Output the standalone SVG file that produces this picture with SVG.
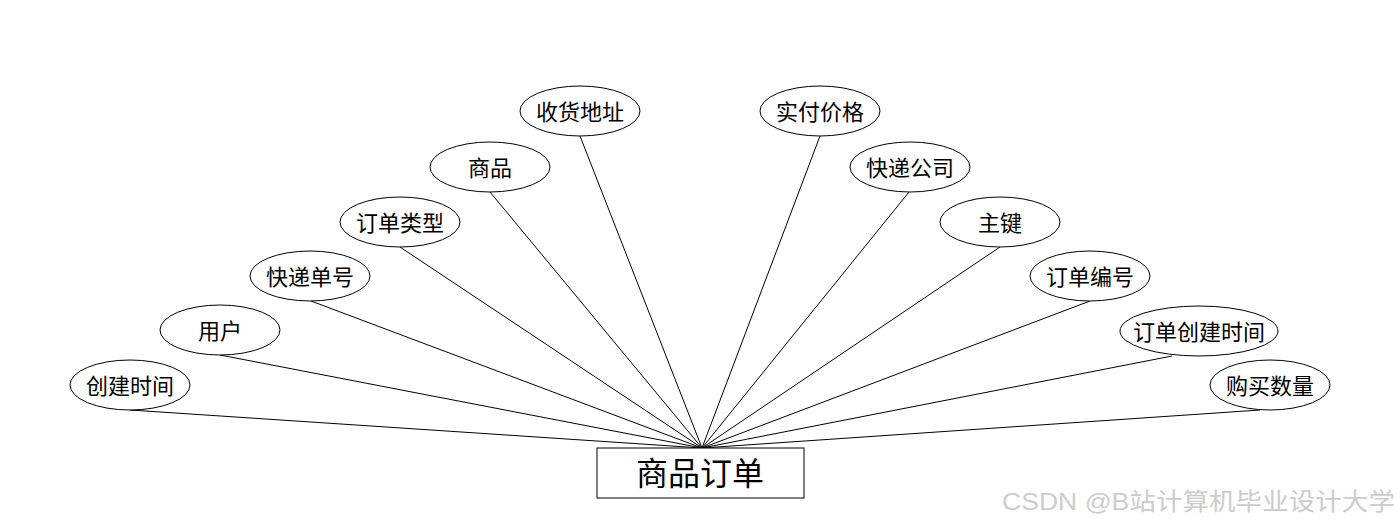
<svg xmlns="http://www.w3.org/2000/svg" width="1400" height="528" viewBox="0 0 1400 528">
<style>
.bg{fill:#ffffff}
.e{fill:#ffffff;stroke:#000000;stroke-width:1}
.c line{stroke:#000000;stroke-width:1}
.t{font-family:"Microsoft YaHei","Noto Sans CJK SC","Noto Sans",sans-serif;font-size:22px;fill:#000000;text-anchor:middle;dominant-baseline:central}
.main{font-size:32px}
.wm{font-family:"Liberation Sans","Noto Sans CJK SC",sans-serif;font-size:24px;fill:#cccccc}
</style>
<rect class="bg" x="0" y="0" width="1400" height="528"/>
<g id="connectors" class="c">
<line x1="130" y1="410" x2="702" y2="448"/>
<line x1="220" y1="355" x2="702" y2="448"/>
<line x1="311" y1="301" x2="702" y2="448"/>
<line x1="400" y1="247" x2="702" y2="448"/>
<line x1="490" y1="192" x2="702" y2="448"/>
<line x1="580" y1="136" x2="702" y2="448"/>
<line x1="820" y1="136" x2="702" y2="448"/>
<line x1="909" y1="192" x2="702" y2="448"/>
<line x1="1000" y1="247" x2="702" y2="448"/>
<line x1="1090" y1="301" x2="702" y2="448"/>
<line x1="1172" y1="356" x2="702" y2="448"/>
<line x1="1260" y1="410" x2="702" y2="448"/>
</g>
<g id="n-main"><rect x="597" y="448" width="207" height="50" fill="#ffffff" stroke="#000000" stroke-width="1"/><text class="t main" x="700" y="471">商品订单</text></g>
<g id="n1"><ellipse class="e" cx="130" cy="385" rx="60" ry="25"/><text class="t" x="130" y="384">创建时间</text></g>
<g id="n2"><ellipse class="e" cx="220" cy="330" rx="60" ry="25"/><text class="t" x="220" y="329">用户</text></g>
<g id="n3"><ellipse class="e" cx="310" cy="276" rx="60" ry="25"/><text class="t" x="310" y="275">快递单号</text></g>
<g id="n4"><ellipse class="e" cx="400" cy="222" rx="60" ry="25"/><text class="t" x="400" y="221">订单类型</text></g>
<g id="n5"><ellipse class="e" cx="490" cy="167" rx="60" ry="25"/><text class="t" x="490" y="166">商品</text></g>
<g id="n6"><ellipse class="e" cx="580" cy="111" rx="60" ry="25"/><text class="t" x="580" y="110">收货地址</text></g>
<g id="n7"><ellipse class="e" cx="820" cy="111" rx="60" ry="25"/><text class="t" x="820" y="110">实付价格</text></g>
<g id="n8"><ellipse class="e" cx="910" cy="167" rx="60" ry="25"/><text class="t" x="910" y="166">快递公司</text></g>
<g id="n9"><ellipse class="e" cx="1000" cy="222" rx="60" ry="25"/><text class="t" x="1000" y="221">主键</text></g>
<g id="n10"><ellipse class="e" cx="1090" cy="276" rx="60" ry="25"/><text class="t" x="1090" y="275">订单编号</text></g>
<g id="n11"><ellipse class="e" cx="1199" cy="331" rx="79" ry="25"/><text class="t" x="1199" y="330">订单创建时间</text></g>
<g id="n12"><ellipse class="e" cx="1270" cy="385" rx="60" ry="25"/><text class="t" x="1270" y="384">购买数量</text></g>
<text class="wm" x="1002" y="510" textLength="393" lengthAdjust="spacingAndGlyphs">CSDN @B站计算机毕业设计大学</text>
</svg>
